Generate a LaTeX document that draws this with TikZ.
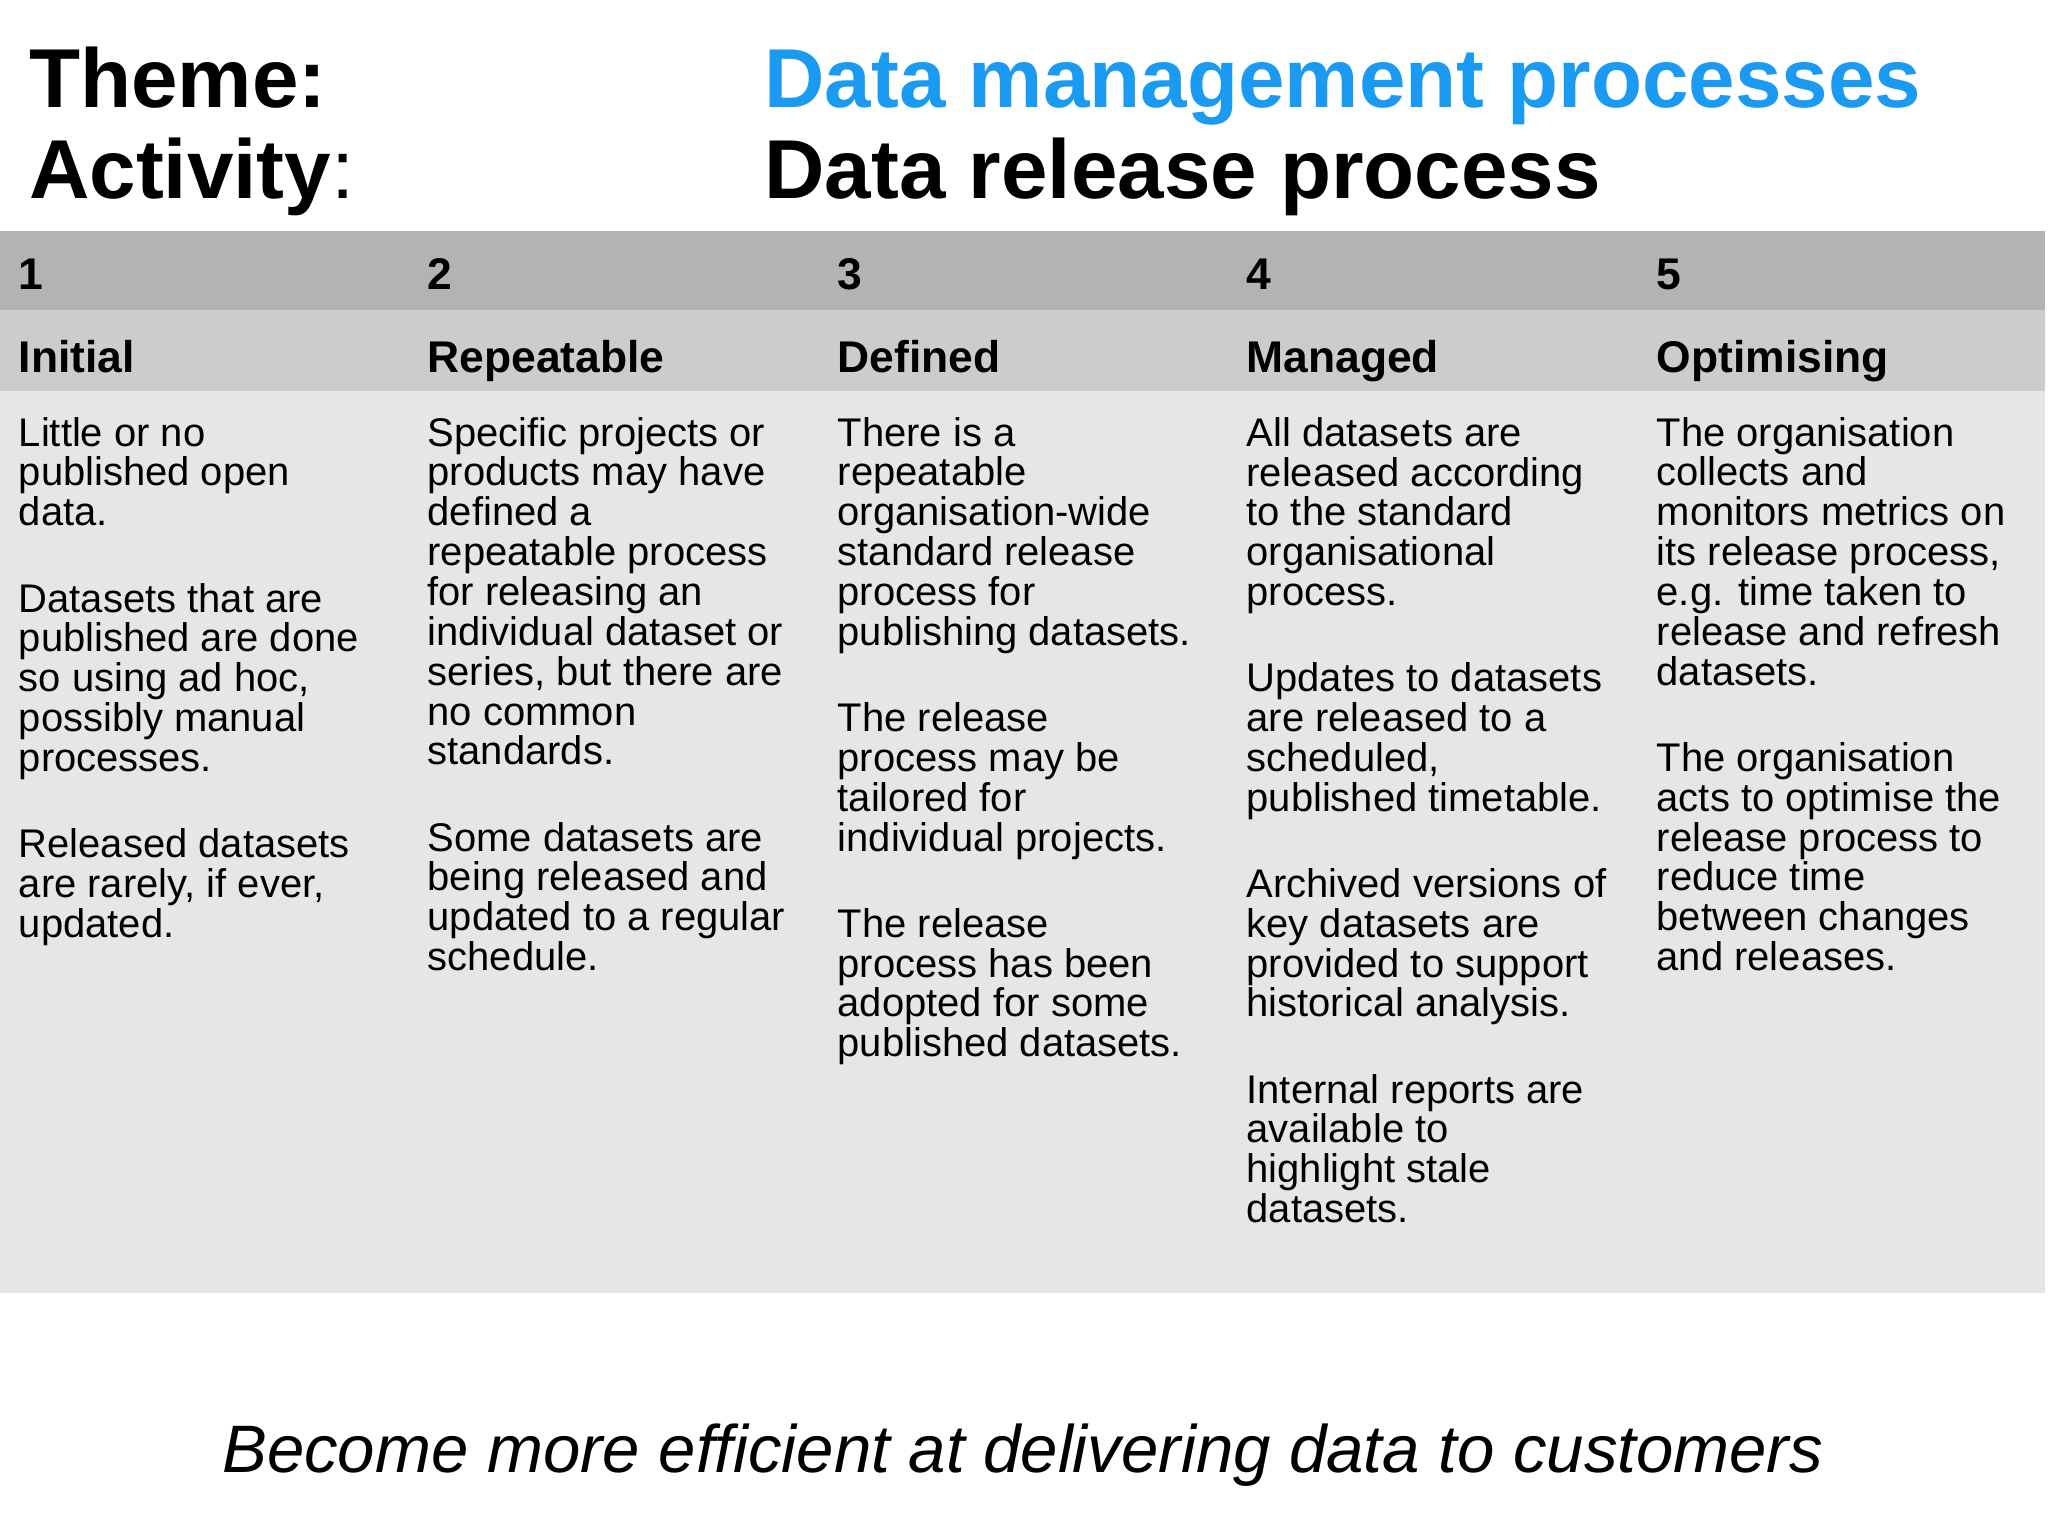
\documentclass[tikz,border=0pt]{standalone}
\usepackage{fontspec}
\setmainfont{Liberation Sans}
\definecolor{bandA}{HTML}{B3B3B3}
\definecolor{bandB}{HTML}{CCCCCC}
\definecolor{bodybg}{HTML}{E6E6E6}
\definecolor{tblue}{HTML}{1A9AF0}
\begin{document}
\begin{tikzpicture}[x=0.5pt,y=-0.5pt,
  title/.style={anchor=base west,inner sep=0,font=\fontsize{32}{36}\selectfont\bfseries},
  num/.style={anchor=base west,inner sep=0,font=\fontsize{17}{20}\selectfont\bfseries},
  body/.style={anchor=north west,inner sep=0,align=left,font=\fontsize{15.3}{15.25}\selectfont}]
\useasboundingbox (0,0) rectangle (1568,1175);
\fill[white] (0,0) rectangle (1568,1175);
\fill[bandA] (0,177) rectangle (1566,237);
\fill[bandB] (0,237) rectangle (1566,299);
\fill[bodybg] (0,299) rectangle (1566,990);
\node[title] (t1) at (22,82) {Theme:};
\node[title] (t2) at (22,152) {Activity\textmd{:}};
\node[title,text=tblue] (t3) at (585,82) {Data management processes};
\node[title] (t4) at (585,152) {Data release process};
\foreach \x/\n/\h [count=\i] in {14/1/Initial,327/2/Repeatable,641/3/Defined,954/4/Managed,1268/5/Optimising}{
  \node[num] (n\i) at (\x,222) {\n};
  \node[num] (h\i) at (\x,285) {\h};
}
\def\pg{\\[17.75pt]}
\node[body] (b1) at (14,319) {Little or no\\published open\\data.\pg Datasets that are\\published are done\\so using ad hoc,\\possibly manual\\processes.\pg Released datasets\\are rarely, if ever,\\updated.};
\node[body] (b2) at (327,319) {Specific projects or\\products may have\\defined a\\repeatable process\\for releasing an\\individual dataset or\\series, but there are\\no common\\standards.\pg Some datasets are\\being released and\\updated to a regular\\schedule.};
\node[body] (b3) at (641,319) {There is a\\repeatable\\organisation-wide\\standard release\\process for\\publishing datasets.\pg The release\\process may be\\tailored for\\individual projects.\pg The release\\process has been\\adopted for some\\published datasets.};
\node[body] (b4) at (954,319) {All datasets are\\released according\\to the standard\\organisational\\process.\pg Updates to datasets\\are released to a\\scheduled,\\published timetable.\pg Archived versions of\\key datasets are\\provided to support\\historical analysis.\pg Internal reports are\\available to\\highlight stale\\datasets.};
\node[body] (b5) at (1268,319) {The organisation\\collects and\\monitors metrics on\\its release process,\\e.g. time taken to\\release and refresh\\datasets.\pg The organisation\\acts to optimise the\\release process to\\reduce time\\between changes\\and releases.};
\node[anchor=base,inner sep=0,font=\fontsize{25.7}{30}\selectfont\itshape] (f) at (783,1127) {Become more efficient at delivering data to customers};
\end{tikzpicture}
\end{document}
